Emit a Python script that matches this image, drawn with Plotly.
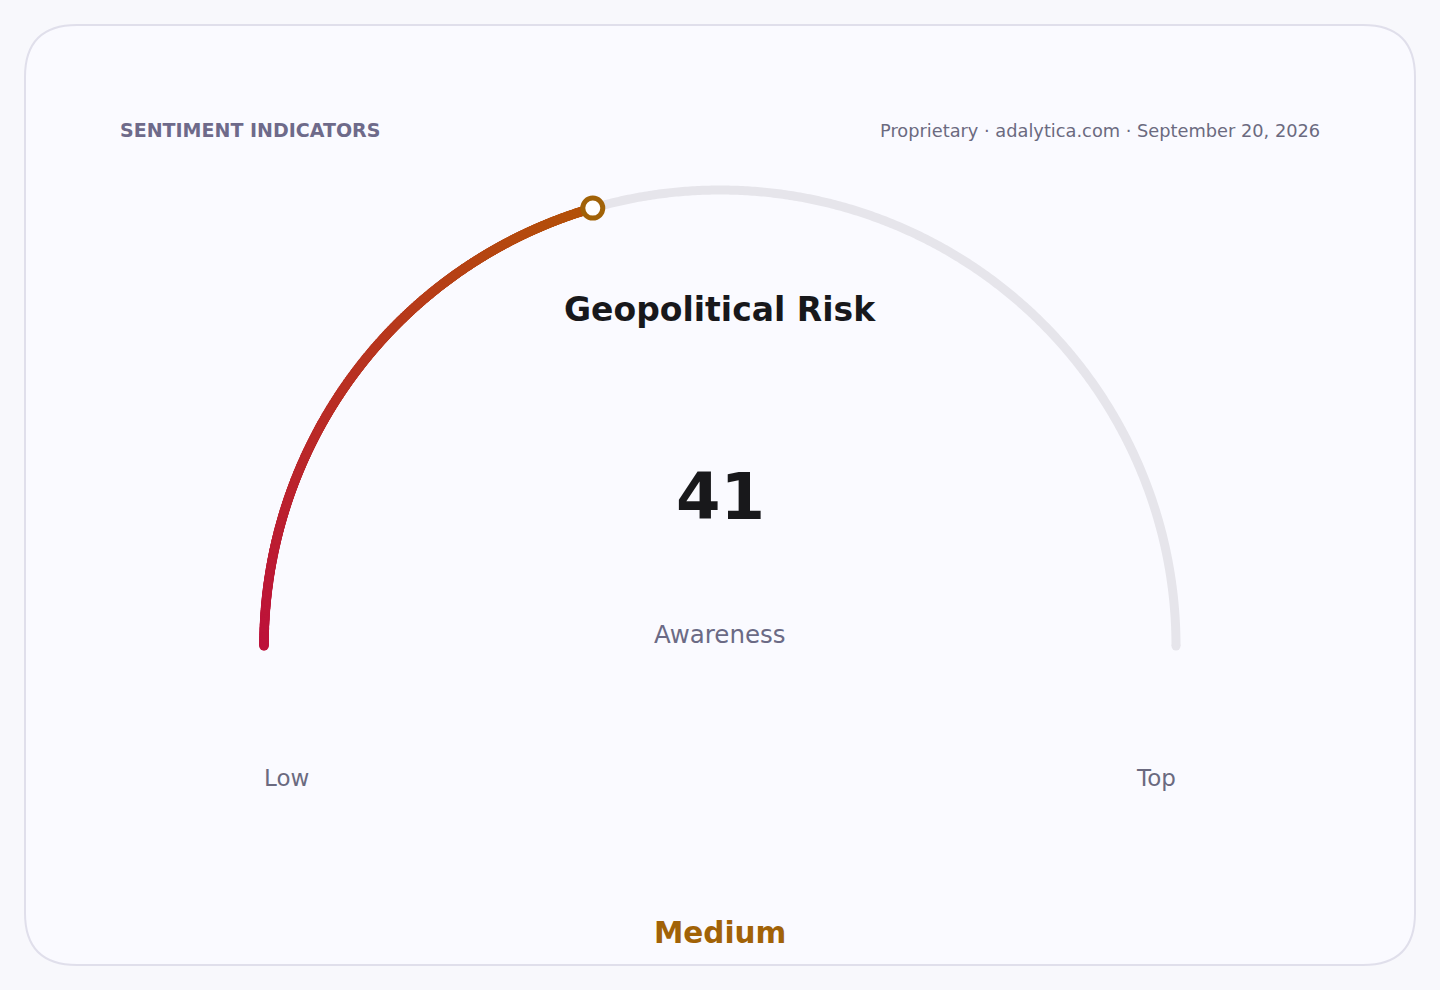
import numpy as np
import plotly.graph_objects as go

# gauge data
value = 41
min_value = 0
max_value = 100
min_label = "Low"
max_label = "Top"
gauge_title = "Geopolitical Risk"
value_caption = "Awareness"
band_label = "Medium"
header_left = "SENTIMENT INDICATORS"
header_right = "Proprietary · adalytica.com · September 20, 2026"

W, H = 1440, 990
cx, cy, r = 720, 646, 456
font = "DejaVu Sans"
bg = "#f8f8fc"
start_rgb = np.array([190, 18, 60])
end_rgb = np.array([180, 83, 9])


def angle_of(v):
    frac = (v - min_value) / (max_value - min_value)
    return np.pi * (1 - frac)


fig = go.Figure()

# background track
t = np.linspace(angle_of(min_value), angle_of(max_value), 600)
fig.add_trace(go.Scatter(x=cx + r * np.cos(t), y=cy - r * np.sin(t), mode="lines",
                         line=dict(color="#e6e5eb", width=9, simplify=False),
                         hoverinfo="skip"))
fig.add_trace(go.Scatter(x=[cx + r * np.cos(angle_of(max_value))],
                         y=[cy - r * np.sin(angle_of(max_value))], mode="markers",
                         marker=dict(size=9, color="#e6e5eb"), hoverinfo="skip"))

# coloured value arc, gradient made of dense dots
n = 700
t = np.linspace(angle_of(min_value), angle_of(value), n)
f = np.linspace(0, 1, n)
cols = ["rgb(%d,%d,%d)" % tuple(start_rgb + (end_rgb - start_rgb) * k) for k in f]
fig.add_trace(go.Scatter(x=cx + r * np.cos(t), y=cy - r * np.sin(t), mode="markers",
                         marker=dict(size=9.5, color=cols, line=dict(width=0)),
                         hoverinfo="skip"))

# value knob
fig.add_trace(go.Scatter(x=[cx + r * np.cos(angle_of(value))],
                         y=[cy - r * np.sin(angle_of(value))], mode="markers",
                         marker=dict(size=20, color="#ffffff",
                                     line=dict(color="#a16207", width=5)),
                         hoverinfo="skip"))

ann = [
    dict(x=118, y=130, text=header_left, xanchor="left",
         font=dict(size=19, color="#6e6a8a", family=font, weight="bold")),
    dict(x=1322, y=130, text=header_right, xanchor="right",
         font=dict(size=17.8, color="#6b6a80", family=font)),
    dict(x=cx, y=309, text=gauge_title,
         font=dict(size=33, color="#18181b", family=font, weight="bold")),
    dict(x=cx, y=497, text=str(value),
         font=dict(size=64, color="#18181b", family=font, weight="bold")),
    dict(x=cx, y=634, text=value_caption,
         font=dict(size=24.5, color="#6b6a85", family=font)),
    dict(x=cx - r - 2, y=778, text=min_label, xanchor="left",
         font=dict(size=23, color="#6b6a80", family=font)),
    dict(x=cx + r + 2, y=778, text=max_label, xanchor="right",
         font=dict(size=23, color="#6b6a80", family=font)),
    dict(x=cx, y=933, text=band_label,
         font=dict(size=29.5, color="#a16207", family=font, weight="bold")),
]
for a in ann:
    a.setdefault("xanchor", "center")
    a.update(xref="x", yref="y", yanchor="middle", showarrow=False)

# rounded card
x0, y0, x1, y1, rr = 25, 25, 1415, 965, 52
card = (f"M {x0 + rr},{y0} L {x1 - rr},{y0} Q {x1},{y0} {x1},{y0 + rr} "
        f"L {x1},{y1 - rr} Q {x1},{y1} {x1 - rr},{y1} L {x0 + rr},{y1} "
        f"Q {x0},{y1} {x0},{y1 - rr} L {x0},{y0 + rr} Q {x0},{y0} {x0 + rr},{y0} Z")

fig.update_layout(
    width=W, height=H,
    margin=dict(l=0, r=0, t=0, b=0),
    paper_bgcolor=bg, plot_bgcolor=bg,
    showlegend=False,
    xaxis=dict(range=[0, W], visible=False, fixedrange=True),
    yaxis=dict(range=[H, 0], visible=False, fixedrange=True),
    annotations=ann,
    shapes=[dict(type="path", path=card, xref="x", yref="y", layer="below",
                 fillcolor="#fafaff", line=dict(color="#e0dfeb", width=2))],
)

fig.write_html("out.html", config={"displayModeBar": False},
               post_script="document.body.style.margin='0';document.body.style.background='%s';" % bg)
